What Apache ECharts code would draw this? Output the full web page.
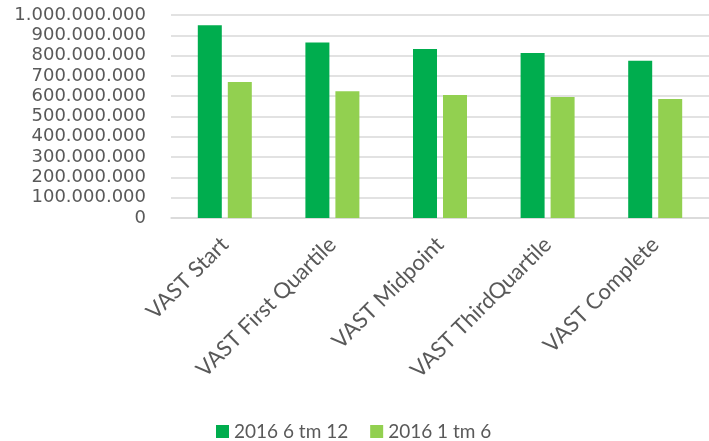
<!DOCTYPE html>
<html>
<head>
<meta charset="utf-8">
<script src="https://cdn.jsdelivr.net/npm/echarts@6/dist/echarts.min.js"></script>
<style>
  html, body { margin: 0; padding: 0; background: #fff; }
  #chart { width: 709px; height: 441px; }
</style>
</head>
<body>
<div id="chart"></div>
<script>
// categorieën en waarden
const categories = ['VAST Start', 'VAST First Quartile', 'VAST Midpoint', 'VAST ThirdQuartile', 'VAST Complete'];
const seriesNames = ['2016 6 tm 12', '2016 1 tm 6'];
const h2Values = [949000000, 865000000, 832000000, 813000000, 775000000];
const h1Values = [670000000, 625000000, 606000000, 596000000, 586000000];

const fmt = v => String(v).replace(/\B(?=(\d{3})+(?!\d))/g, '.');

const chart = echarts.init(document.getElementById('chart'));
chart.setOption({
  animation: false,
  textStyle: { fontFamily: 'Lato' },
  legend: {
    top: 417,
    left: 211,
    itemWidth: 13,
    itemHeight: 13,
    itemGap: 22,
    icon: 'rect',
    textStyle: { color: '#595959', fontSize: 19, fontFamily: 'Lato' },
    data: seriesNames
  },
  grid: { left: 171, right: 0, top: 15, bottom: 223 },
  xAxis: {
    type: 'category',
    data: categories,
    axisLine: { lineStyle: { color: '#d9d9d9', width: 1.5 } },
    axisTick: { show: false },
    axisLabel: {
      rotate: 45,
      interval: 0,
      margin: 23,
      color: '#595959',
      fontSize: 22,
      fontFamily: 'Lato'
    }
  },
  yAxis: {
    type: 'value',
    min: 0,
    max: 1000000000,
    interval: 100000000,
    axisLine: { show: false },
    axisTick: { show: false },
    splitLine: { lineStyle: { color: '#d9d9d9', width: 1.5 } },
    axisLabel: {
      margin: 25,
      color: '#595959',
      fontSize: 18,
      fontFamily: 'DejaVu Sans',
      formatter: fmt
    }
  },
  series: [
    {
      name: seriesNames[0],
      type: 'bar',
      data: h2Values,
      barWidth: 24,
      barGap: '25%',
      itemStyle: { color: '#00ad4e' }
    },
    {
      name: seriesNames[1],
      type: 'bar',
      data: h1Values,
      barWidth: 24,
      itemStyle: { color: '#92d050' }
    }
  ]
});
</script>
</body>
</html>
